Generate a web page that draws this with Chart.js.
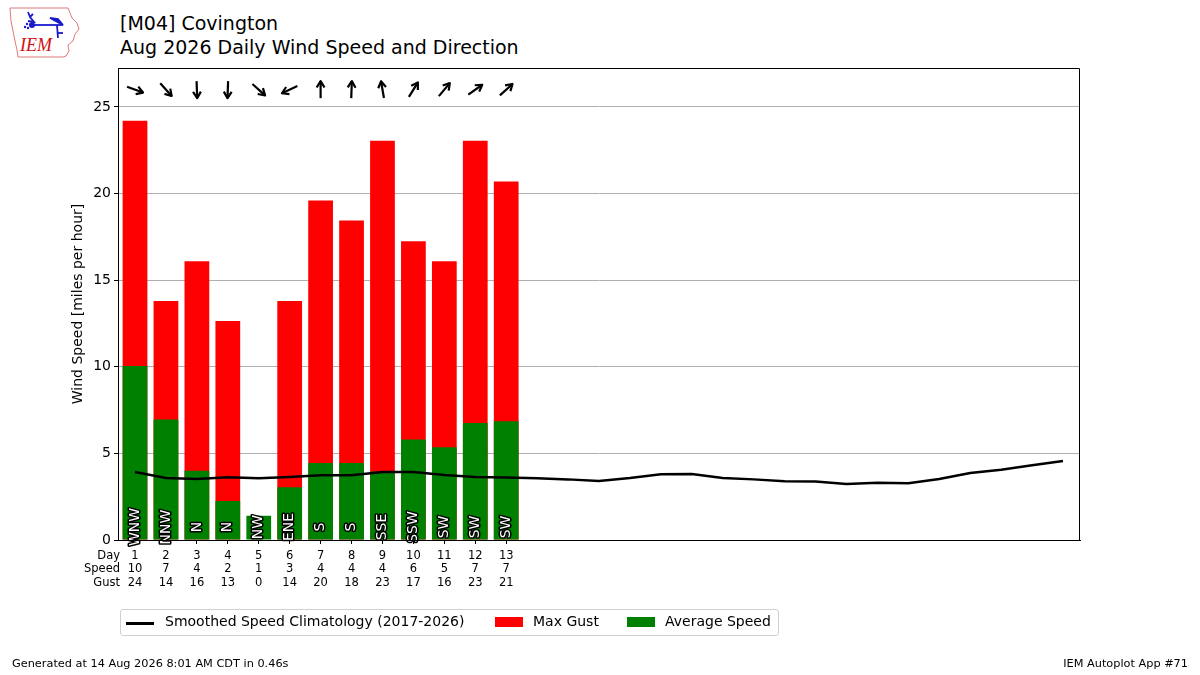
<!DOCTYPE html>
<html>
<head>
<meta charset="utf-8">
<script src="https://cdn.jsdelivr.net/npm/chart.js@4"></script>
<style>
  html, body { margin: 0; padding: 0; background: #fff; }
  body { width: 1200px; height: 675px; position: relative; overflow: hidden; font-family: "DejaVu Sans", sans-serif; color: #000; }
  #chart { position: absolute; left: 0; top: 0; }
  .title { position: absolute; left: 120px; font-size: 19px; line-height: 23px; white-space: nowrap; }
  #legend { position: absolute; left: 120px; top: 609px; width: 657px; height: 25px; border: 1px solid #d0d0d0; border-radius: 3px; font-size: 14px; }
  #legend span { position: absolute; top: 3px; white-space: nowrap; }
  #legend i { position: absolute; display: block; }
  .foot { position: absolute; top: 657px; font-size: 11.3px; white-space: nowrap; }
  #logo { position: absolute; left: 6px; top: 5px; }
</style>
</head>
<body>
<svg id="logo" width="76" height="56" viewBox="0 0 76 56">
  <path d="M4,3 L62,3 L64,8 L66,13 L71,18 L73,24 L69,29 L67,36 L62,40 L63,46 L60,51 L57,52 L12,52 L11,45 L9,36 L7,26 L5,16 Z" fill="none" stroke="#e07a7a" stroke-width="1"/>
  <g stroke="#1a1acc" stroke-width="1.8" fill="none">
    <line x1="26" y1="20" x2="57" y2="20"/>
    <path d="M44,13 L52,14 L57,20 Z" fill="#1a1acc"/>
    <line x1="51" y1="20" x2="52" y2="33"/>
    <line x1="52" y1="28" x2="57" y2="28"/>
    <path d="M22,7 L24,12 L27,9 M24,12 L28,17 L22,16"/>
  </g>
  <circle cx="26" cy="20" r="3" fill="#1a1acc"/>
  <circle cx="19" cy="22" r="1.2" fill="#1a1acc"/>
  <circle cx="21" cy="19" r="1.2" fill="#1a1acc"/>
  <circle cx="22" cy="23" r="1.2" fill="#1a1acc"/>
  <text x="14" y="46" font-family="Liberation Serif, serif" font-style="italic" font-size="18" fill="#d01010">IEM</text>
</svg>
<div class="title" style="top:12px">[M04] Covington</div>
<div class="title" style="top:36px">Aug 2026 Daily Wind Speed and Direction</div>
<canvas id="chart" width="1200" height="675"></canvas>
<div id="legend">
  <i style="left:5px;top:12px;width:28px;height:3px;background:#000"></i>
  <span style="left:44px">Smoothed Speed Climatology (2017-2026)</span>
  <i style="left:374px;top:7px;width:28px;height:10px;background:#ff0000"></i>
  <span style="left:412px">Max Gust</span>
  <i style="left:506px;top:7px;width:28px;height:10px;background:#008000"></i>
  <span style="left:544px">Average Speed</span>
</div>
<div class="foot" style="left:12px">Generated at 14 Aug 2026 8:01 AM CDT in 0.46s</div>
<div class="foot" style="right:12px">IEM Autoplot App #71</div>
<script>
// observed days so far
const obsDays = [1, 2, 3, 4, 5, 6, 7, 8, 9, 10, 11, 12, 13];
const maxGust = [24.2, 13.8, 16.1, 12.65, 0, 13.8, 19.6, 18.45, 23.05, 17.25, 16.1, 23.05, 20.7];
const avgSpeed = [10.05, 6.95, 4.0, 2.25, 1.4, 3.05, 4.45, 4.45, 3.95, 5.8, 5.35, 6.75, 6.85];
const speedRow = [10, 7, 4, 2, 1, 3, 4, 4, 4, 6, 5, 7, 7];
const gustRow = [24, 14, 16, 13, 0, 14, 20, 18, 23, 17, 16, 23, 21];
const dirText = ["WNW", "NNW", "N", "N", "NW", "ENE", "S", "S", "SSE", "SSW", "SW", "SW", "SW"];
// average wind direction (degrees, blowing from)
const dirDeg = [290, 318, 358, 2, 312, 65, 180, 182, 170, 212, 220, 235, 228];

// climatology for the whole month
const climoDays = [1, 2, 3, 4, 5, 6, 7, 8, 9, 10, 11, 12, 13, 14, 15, 16, 17, 18, 19, 20, 21, 22, 23, 24, 25, 26, 27, 28, 29, 30, 31];
const climoSpeed = [3.93, 3.58, 3.52, 3.62, 3.56, 3.64, 3.74, 3.74, 3.93, 3.93, 3.75, 3.64, 3.61, 3.56, 3.50, 3.40, 3.58, 3.80, 3.81, 3.58, 3.50, 3.39, 3.38, 3.24, 3.30, 3.28, 3.52, 3.87, 4.06, 4.31, 4.56];

const yTicks = [0, 5, 10, 15, 20, 25];
const rowNames = ["Day", "Speed", "Gust"];

const FONT = "DejaVu Sans";
const LABEL_SIZE = 11.5;
const LABEL_LH = 13.5;
const TICK_LEN = 4;
const TICK_PAD = 5;

const extras = {
  id: "extras",
  afterDatasetsDraw(chart) {
    const { ctx, chartArea: a, scales: { x, y } } = chart;
    ctx.save();
    // direction names inside the bars
    ctx.font = "14px '" + FONT + "'";
    ctx.textAlign = "center";
    ctx.textBaseline = "middle";
    ctx.lineJoin = "round";
    dirText.forEach((t, i) => {
      ctx.save();
      ctx.translate(x.getPixelForValue(obsDays[i]), y.getPixelForValue(0) - 13);
      ctx.rotate(-Math.PI / 2);
      ctx.strokeStyle = "#000";
      ctx.lineWidth = 3;
      ctx.strokeText(t, 0, 0);
      ctx.fillStyle = "#fff";
      ctx.fillText(t, 0, 0);
      ctx.restore();
    });
    // direction arrows along the top
    ctx.strokeStyle = "#000";
    ctx.lineWidth = 2.2;
    ctx.lineCap = "butt";
    dirDeg.forEach((d, i) => {
      const cx = x.getPixelForValue(obsDays[i]);
      const cy = y.getPixelForValue(26);
      const th = (d + 180) * Math.PI / 180;
      const ux = Math.sin(th), uy = -Math.cos(th);
      const h = 8.5;
      const tx = cx + ux * h, ty = cy + uy * h;
      ctx.beginPath();
      ctx.moveTo(cx - ux * h, cy - uy * h);
      ctx.lineTo(tx, ty);
      ctx.stroke();
      const hl = 7.5, sp = 0.55;
      ctx.beginPath();
      ctx.moveTo(tx - hl * Math.sin(th - sp), ty + hl * Math.cos(th - sp));
      ctx.lineTo(tx, ty);
      ctx.lineTo(tx - hl * Math.sin(th + sp), ty + hl * Math.cos(th + sp));
      ctx.stroke();
    });
    // frame
    ctx.lineWidth = 1;
    ctx.strokeRect(a.left + 0.5, a.top + 0.5, a.right - a.left - 1, a.bottom - a.top);
    // row names left of the x tick labels
    ctx.fillStyle = "#000";
    ctx.font = LABEL_SIZE + "px '" + FONT + "'";
    ctx.textAlign = "right";
    ctx.textBaseline = "middle";
    const top0 = x.top + TICK_LEN + TICK_PAD;
    rowNames.forEach((n, i) => {
      ctx.fillText(n, a.left + 2, top0 + LABEL_LH / 2 + i * LABEL_LH);
    });
    ctx.restore();
  }
};

new Chart(document.getElementById("chart"), {
  data: {
    datasets: [
      {
        type: "line",
        label: "Smoothed Speed Climatology (2017-2026)",
        data: climoDays.map((d, i) => ({ x: d, y: climoSpeed[i] })),
        borderColor: "#000",
        borderWidth: 2.5,
        pointRadius: 0,
        tension: 0,
        order: 0
      },
      {
        type: "bar",
        label: "Average Speed",
        data: obsDays.map((d, i) => ({ x: d, y: avgSpeed[i] })),
        backgroundColor: "#008000",
        grouped: false,
        barPercentage: 0.8,
        categoryPercentage: 1,
        order: 1
      },
      {
        type: "bar",
        label: "Max Gust",
        data: obsDays.map((d, i) => ({ x: d, y: maxGust[i] })),
        backgroundColor: "#ff0000",
        grouped: false,
        barPercentage: 0.8,
        categoryPercentage: 1,
        order: 2
      }
    ]
  },
  options: {
    responsive: false,
    animation: false,
    devicePixelRatio: 1,
    layout: { padding: { left: 66, top: 68, right: 120, bottom: 75 } },
    plugins: { legend: { display: false }, tooltip: { enabled: false } },
    scales: {
      x: {
        type: "linear",
        min: 0.45,
        max: 31.55,
        offset: false,
        afterBuildTicks: (s) => { s.ticks = obsDays.map(v => ({ value: v })); },
        afterFit: (s) => { s.height = 60; },
        grid: { offset: false, drawOnChartArea: false, drawTicks: true, tickLength: TICK_LEN, tickColor: "#000" },
        border: { color: "#000" },
        ticks: {
          autoSkip: false,
          maxRotation: 0,
          padding: TICK_PAD,
          color: "#000",
          font: { family: FONT, size: LABEL_SIZE, lineHeight: LABEL_LH / LABEL_SIZE },
          callback: (v) => {
            const i = obsDays.indexOf(v);
            return i < 0 ? "" : [String(v), String(speedRow[i]), String(gustRow[i])];
          }
        }
      },
      y: {
        min: 0,
        max: 27.25,
        afterBuildTicks: (s) => { s.ticks = yTicks.map(v => ({ value: v })); },
        afterFit: (s) => { s.width = 52; },
        grid: { color: "#b0b0b0", lineWidth: 1, tickLength: TICK_LEN, tickColor: "#000" },
        border: { color: "#000" },
        ticks: { color: "#000", padding: 3, font: { family: FONT, size: 14 } },
        title: {
          display: true,
          text: "Wind Speed [miles per hour]",
          color: "#000",
          font: { family: FONT, size: 14 },
          padding: { top: 4, bottom: 4 }
        }
      }
    }
  },
  plugins: [extras]
});
</script>
</body>
</html>
